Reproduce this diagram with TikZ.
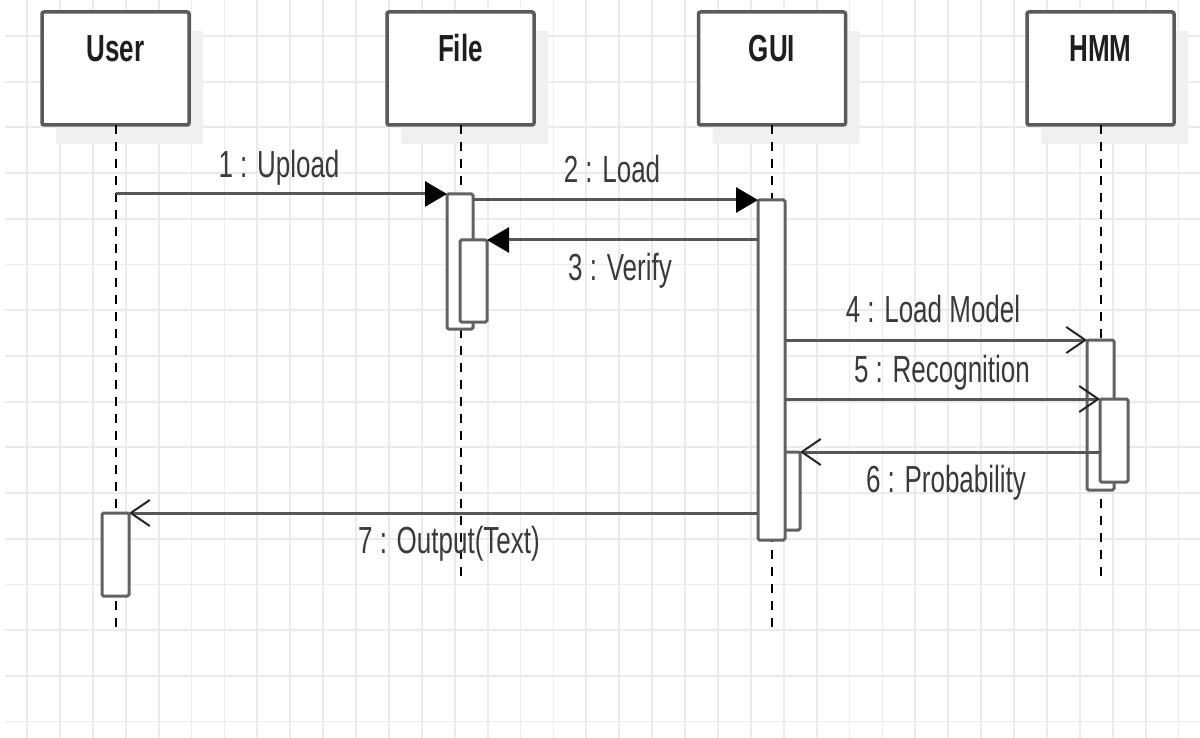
\documentclass[tikz,border=0pt]{standalone}
\usepackage{graphicx}
\usepackage{fontspec}
\setmainfont{Liberation Sans}
\usetikzlibrary{arrows.meta,shadows}

\definecolor{gridc}{HTML}{EBEBEB}
\definecolor{boxc}{HTML}{5A5A5A}
\definecolor{actc}{HTML}{626262}
\definecolor{msgc}{HTML}{575757}
\definecolor{shadowc}{HTML}{F0F0F0}
\definecolor{headtxt}{HTML}{1E1E1E}
\definecolor{lbltxt}{HTML}{3A3A3A}

% text in this diagram is set tall and narrow
\newcommand{\tallt}[1]{\scalebox{1}[1.45]{#1}}

\begin{document}
\begin{tikzpicture}[x=1pt,y=-1pt,
  gridline/.style={draw=gridc, line width=1.8pt},
  head/.style={draw=boxc, line width=3.5pt, fill=white, rounded corners=2pt,
    minimum width=147pt, minimum height=113pt, inner sep=0pt, outer sep=0pt,
    text height=30pt, text depth=43pt, text=headtxt,
    font=\fontsize{26}{30}\selectfont\bfseries,
    general shadow={fill=shadowc, shadow xshift=14pt, shadow yshift=-19pt}},
  act/.style={draw=actc, line width=3pt, fill=white, rounded corners=1.5pt,
    minimum width=27pt, inner sep=0pt, outer sep=0pt},
  life/.style={draw=black, line width=2pt, dash pattern=on 9pt off 8pt},
  msg/.style={draw=msgc, line width=3pt},
  sync/.style={msg, -{Triangle[length=22pt,width=25pt,color=black]}},
  async/.style={msg, -{Straight Barb[length=19pt,width=26pt,line width=2pt,color=black!85]}},
  lbl/.style={anchor=base, inner sep=0pt, text=lbltxt, font=\fontsize{26}{30}\selectfont}
]
\useasboundingbox (0,0) rectangle (1200,738);
\fill[white] (0,0) rectangle (1200,738);

% background grid
\foreach \i in {0,...,35}
  \draw[gridline] ({27+32.9*\i},0) -- ({27+32.9*\i},738);
\foreach \j in {0,...,15}
  \draw[gridline] (5,{36+45.7*\j}) -- (1200,{36+45.7*\j});

% participants
\node[head] (user) at (115.5,68.5) {\tallt{User}};
\node[head] (file) at (460.5,68.5) {\tallt{File}};
\node[head] (gui)  at (772,68.5)   {\tallt{GUI}};
\node[head] (hmm)  at (1100.5,68.5) {\tallt{HMM}};

% lifeline ends
\coordinate (userEnd) at (user.south |- 0,632);
\coordinate (fileEnd) at (file.south |- 0,580);
\coordinate (guiEnd)  at (gui.south |- 0,632);
\coordinate (hmmEnd)  at (hmm.south |- 0,580);

\draw[life] (user.south) -- (userEnd);
\draw[life] (file.south) -- (fileEnd);
\draw[life] (gui.south)  -- (guiEnd);
\draw[life] (hmm.south)  -- (hmmEnd);

% activation bars
\node[act, minimum width=26pt, minimum height=135pt] (fA) at (460,261.5) {};
\node[act, minimum height=82pt]  (fB) at (473.5,281) {};
\node[act, minimum width=28pt, minimum height=78pt] (gB) at (786,491) {};
\node[act, minimum height=340pt] (gA) at (771.5,370) {};
\node[act, minimum height=150pt] (hA) at (1100.5,415) {};
\node[act, minimum width=28pt, minimum height=83pt] (hB) at (1114,440.5) {};
\node[act, minimum height=83pt]  (uA) at (115.5,554.5) {};

% messages
\draw[sync]  (user |- fA.north) -- (fA.north west);
\draw[sync]  (fA.east |- gA.north) -- (gA.north west);
\draw[sync]  (gA.west |- fB.north) -- (fB.north east);
\draw[async] (gA.east |- hA.north) -- (hA.north west);
\draw[async] (gA.east |- hB.north) -- (hB.north west);
\draw[async] (hB.west |- gB.north) -- (gB.north east);
\draw[async] (gA.west |- uA.north) -- (uA.north east);

% message labels
\node[lbl] (l1) at (279,178) {\tallt{1 : Upload}};
\node[lbl] (l2) at (612,183) {\tallt{2 : Load}};
\node[lbl] (l3) at (620,280) {\tallt{3 : Verify}};
\node[lbl] (l4) at (933,323) {\tallt{4 : Load Model}};
\node[lbl] (l5) at (942,382) {\tallt{5 : Recognition}};
\node[lbl] (l6) at (946,492) {\tallt{6 : Probability}};
\node[lbl] (l7) at (449,553) {\tallt{7 : Output(Text)}};
\end{tikzpicture}
\end{document}
